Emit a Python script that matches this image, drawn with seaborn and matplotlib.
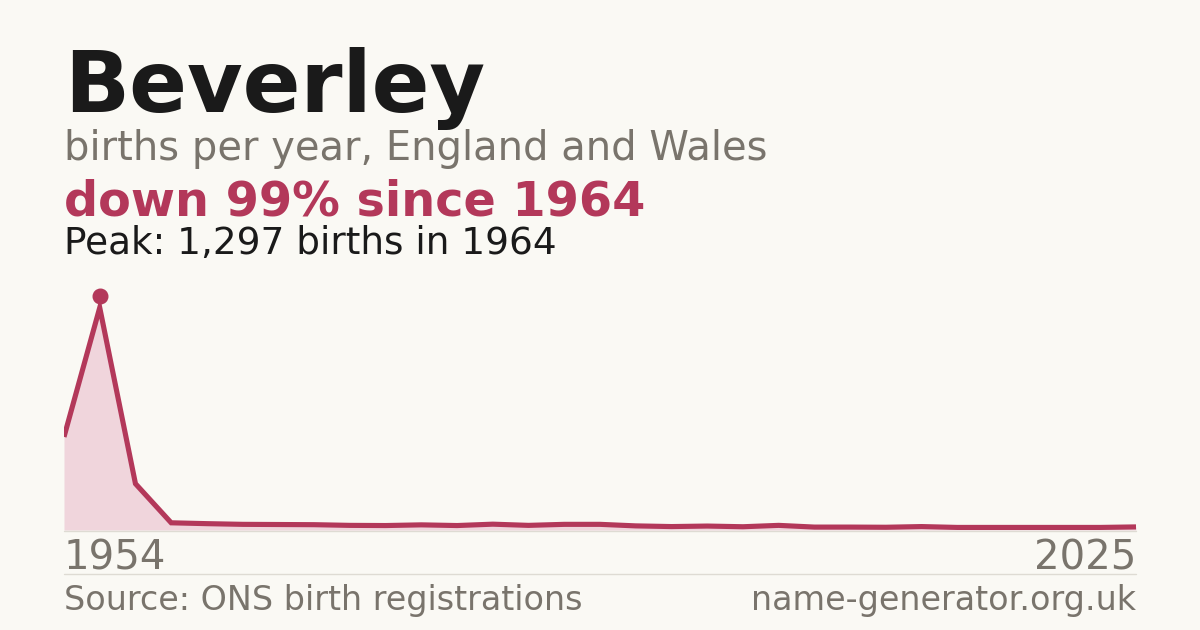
import matplotlib
matplotlib.use("Agg")
import matplotlib.pyplot as plt
import matplotlib.transforms as mtransforms
import seaborn as sns
import pandas as pd

# values (births per year, evenly spaced points)
years = [1954, 1964, 1974, 1984, 1999, 2000, 2001, 2002, 2003, 2004, 2005,
         2006, 2007, 2008, 2009, 2010, 2011, 2012, 2013, 2014, 2015, 2016,
         2017, 2018, 2019, 2020, 2021, 2022, 2023, 2024, 2025]
births = [543, 1297, 270, 42, 37, 33, 32, 31, 27, 26, 30, 26, 34, 27, 33,
          33, 24, 20, 23, 19, 27, 17, 17, 16, 20, 15, 15, 15, 15, 15, 18]
peak_year = 1964
peak_births = 1297

df = pd.DataFrame({"idx": range(len(years)), "year": years, "births": births})

BG = "#FAF9F4"
RED = "#B3385A"
FILL = "#F0D5DC"
DARK = "#1A1A1A"
GREY = "#79746C"
RULE = "#DEDBD3"

sns.set_theme(style="white")
plt.rcParams["font.family"] = ["DejaVu Sans"]

W, H = 1200, 630
fig = plt.figure(figsize=(12, 6.3), dpi=100, facecolor=BG)


def px(x, y):
    return x / W, 1 - y / H


ax = fig.add_axes([64 / W, (H - 530) / H, 1072 / W, 240 / H])
ax.set_facecolor(BG)
ax.patch.set_alpha(0)

ax.fill_between(df["idx"], df["births"], 0, color=FILL, lw=0, zorder=1)
sns.lineplot(data=df, x="idx", y="births", ax=ax, color=RED, lw=3.7,
             solid_joinstyle="miter", solid_capstyle="butt", zorder=3)

# peak dot sits a little above the line vertex
pi = years.index(peak_year)
off = mtransforms.offset_copy(ax.transData, fig=fig, x=0, y=12, units="dots")
ax.plot([df["idx"][pi]], [peak_births], "o", color=RED, ms=10.5,
        transform=off, zorder=4, clip_on=False)

ax.set_xlim(0, len(years) - 1)
ax.set_ylim(0, 1400)
ax.set_xticks([])
ax.set_yticks([])
ax.set_xlabel("")
ax.set_ylabel("")
for s in ax.spines.values():
    s.set_visible(False)

# baseline and separator rules
fig.add_artist(plt.Line2D([64 / W, 1136 / W], [1 - 531 / H] * 2, color=RULE, lw=1))
fig.add_artist(plt.Line2D([64 / W, 1136 / W], [1 - 574 / H] * 2, color=RULE, lw=1))

fig.text(*px(64, 112), "Beverley", fontsize=61.5, fontweight="bold", color=DARK, va="baseline")
fig.text(*px(64, 160), "births per year, England and Wales", fontsize=28.8, color=GREY, va="baseline")
fig.text(*px(64, 215), "down 99% since 1964", fontsize=34.4, fontweight="bold", color=RED, va="baseline")
fig.text(*px(64, 254), f"Peak: {peak_births:,} births in {peak_year}", fontsize=26.9, color=DARK, va="baseline")

fig.text(*px(64, 570), str(years[0]), fontsize=28.9, color=GREY, va="baseline")
fig.text(*px(1136, 570), str(years[-1]), fontsize=28.9, color=GREY, va="baseline", ha="right")
fig.text(*px(64, 610), "Source: ONS birth registrations", fontsize=24, color=GREY, va="baseline")
fig.text(*px(1136, 610), "name-generator.org.uk", fontsize=24, color=GREY, va="baseline", ha="right")

fig.savefig("out.png", dpi=100, facecolor=BG)
